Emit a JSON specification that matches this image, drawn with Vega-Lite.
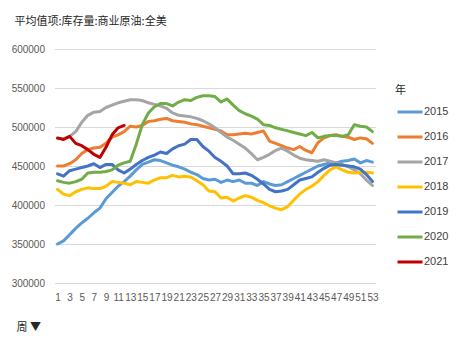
{
  "$schema": "https://vega.github.io/schema/vega-lite/v6.json",
  "width": 321,
  "height": 234,
  "autosize": {"type": "none"},
  "padding": {"left": 54.5, "top": 49, "right": 88.5, "bottom": 69},
  "background": "white",
  "config": {"view": {"stroke": null}, "font": "Liberation Sans"},
  "title": {"text": "平均值项:库存量:商业原油:全美", "anchor": "start", "frame": "group", "font": "Noto Sans CJK SC", "fontSize": 11, "fontWeight": "normal", "color": "#262626", "dx": -40, "dy": -13},
  "data": {"values": [
{"w":1,"y":"2015","v":350000},{"w":2,"y":"2015","v":354000},{"w":3,"y":"2015","v":362000},{"w":4,"y":"2015","v":370000},{"w":5,"y":"2015","v":377000},{"w":6,"y":"2015","v":383000},{"w":7,"y":"2015","v":390000},{"w":8,"y":"2015","v":396000},{"w":9,"y":"2015","v":408000},{"w":10,"y":"2015","v":416000},{"w":11,"y":"2015","v":424000},{"w":12,"y":"2015","v":430000},{"w":13,"y":"2015","v":437000},{"w":14,"y":"2015","v":445000},{"w":15,"y":"2015","v":452000},{"w":16,"y":"2015","v":455000},{"w":17,"y":"2015","v":458000},{"w":18,"y":"2015","v":457000},{"w":19,"y":"2015","v":454000},{"w":20,"y":"2015","v":451000},{"w":21,"y":"2015","v":449000},{"w":22,"y":"2015","v":446000},{"w":23,"y":"2015","v":442000},{"w":24,"y":"2015","v":439000},{"w":25,"y":"2015","v":434000},{"w":26,"y":"2015","v":432000},{"w":27,"y":"2015","v":433000},{"w":28,"y":"2015","v":429000},{"w":29,"y":"2015","v":432000},{"w":30,"y":"2015","v":430000},{"w":31,"y":"2015","v":432000},{"w":32,"y":"2015","v":428000},{"w":33,"y":"2015","v":428000},{"w":34,"y":"2015","v":425000},{"w":35,"y":"2015","v":430000},{"w":36,"y":"2015","v":427000},{"w":37,"y":"2015","v":425000},{"w":38,"y":"2015","v":426000},{"w":39,"y":"2015","v":430000},{"w":40,"y":"2015","v":434000},{"w":41,"y":"2015","v":438000},{"w":42,"y":"2015","v":442000},{"w":43,"y":"2015","v":446000},{"w":44,"y":"2015","v":450000},{"w":45,"y":"2015","v":452000},{"w":46,"y":"2015","v":454000},{"w":47,"y":"2015","v":454000},{"w":48,"y":"2015","v":456000},{"w":49,"y":"2015","v":457000},{"w":50,"y":"2015","v":459000},{"w":51,"y":"2015","v":454000},{"w":52,"y":"2015","v":457000},{"w":53,"y":"2015","v":455000},
{"w":1,"y":"2016","v":450000},{"w":2,"y":"2016","v":450000},{"w":3,"y":"2016","v":453000},{"w":4,"y":"2016","v":458000},{"w":5,"y":"2016","v":466000},{"w":6,"y":"2016","v":471000},{"w":7,"y":"2016","v":473000},{"w":8,"y":"2016","v":474000},{"w":9,"y":"2016","v":479000},{"w":10,"y":"2016","v":487000},{"w":11,"y":"2016","v":490000},{"w":12,"y":"2016","v":494000},{"w":13,"y":"2016","v":501000},{"w":14,"y":"2016","v":500000},{"w":15,"y":"2016","v":502000},{"w":16,"y":"2016","v":507000},{"w":17,"y":"2016","v":508000},{"w":18,"y":"2016","v":510000},{"w":19,"y":"2016","v":511000},{"w":20,"y":"2016","v":508000},{"w":21,"y":"2016","v":507000},{"w":22,"y":"2016","v":506000},{"w":23,"y":"2016","v":504000},{"w":24,"y":"2016","v":503000},{"w":25,"y":"2016","v":501000},{"w":26,"y":"2016","v":499000},{"w":27,"y":"2016","v":497000},{"w":28,"y":"2016","v":495000},{"w":29,"y":"2016","v":490000},{"w":30,"y":"2016","v":490000},{"w":31,"y":"2016","v":491000},{"w":32,"y":"2016","v":492000},{"w":33,"y":"2016","v":491000},{"w":34,"y":"2016","v":493000},{"w":35,"y":"2016","v":495000},{"w":36,"y":"2016","v":482000},{"w":37,"y":"2016","v":479000},{"w":38,"y":"2016","v":476000},{"w":39,"y":"2016","v":473000},{"w":40,"y":"2016","v":471000},{"w":41,"y":"2016","v":475000},{"w":42,"y":"2016","v":470000},{"w":43,"y":"2016","v":467000},{"w":44,"y":"2016","v":480000},{"w":45,"y":"2016","v":486000},{"w":46,"y":"2016","v":489000},{"w":47,"y":"2016","v":490000},{"w":48,"y":"2016","v":488000},{"w":49,"y":"2016","v":487000},{"w":50,"y":"2016","v":484000},{"w":51,"y":"2016","v":486000},{"w":52,"y":"2016","v":485000},{"w":53,"y":"2016","v":479000},
{"w":1,"y":"2017","v":485000},{"w":2,"y":"2017","v":485000},{"w":3,"y":"2017","v":488000},{"w":4,"y":"2017","v":494000},{"w":5,"y":"2017","v":506000},{"w":6,"y":"2017","v":515000},{"w":7,"y":"2017","v":519000},{"w":8,"y":"2017","v":520000},{"w":9,"y":"2017","v":525000},{"w":10,"y":"2017","v":528000},{"w":11,"y":"2017","v":531000},{"w":12,"y":"2017","v":533000},{"w":13,"y":"2017","v":535000},{"w":14,"y":"2017","v":535000},{"w":15,"y":"2017","v":534000},{"w":16,"y":"2017","v":531000},{"w":17,"y":"2017","v":529000},{"w":18,"y":"2017","v":527000},{"w":19,"y":"2017","v":524000},{"w":20,"y":"2017","v":518000},{"w":21,"y":"2017","v":515000},{"w":22,"y":"2017","v":514000},{"w":23,"y":"2017","v":513000},{"w":24,"y":"2017","v":511000},{"w":25,"y":"2017","v":508000},{"w":26,"y":"2017","v":504000},{"w":27,"y":"2017","v":499000},{"w":28,"y":"2017","v":493000},{"w":29,"y":"2017","v":487000},{"w":30,"y":"2017","v":483000},{"w":31,"y":"2017","v":478000},{"w":32,"y":"2017","v":473000},{"w":33,"y":"2017","v":466000},{"w":34,"y":"2017","v":458000},{"w":35,"y":"2017","v":461000},{"w":36,"y":"2017","v":465000},{"w":37,"y":"2017","v":470000},{"w":38,"y":"2017","v":473000},{"w":39,"y":"2017","v":469000},{"w":40,"y":"2017","v":464000},{"w":41,"y":"2017","v":460000},{"w":42,"y":"2017","v":458000},{"w":43,"y":"2017","v":457000},{"w":44,"y":"2017","v":456000},{"w":45,"y":"2017","v":458000},{"w":46,"y":"2017","v":456000},{"w":47,"y":"2017","v":454000},{"w":48,"y":"2017","v":452000},{"w":49,"y":"2017","v":449000},{"w":50,"y":"2017","v":445000},{"w":51,"y":"2017","v":440000},{"w":52,"y":"2017","v":432000},{"w":53,"y":"2017","v":425000},
{"w":1,"y":"2018","v":420000},{"w":2,"y":"2018","v":414000},{"w":3,"y":"2018","v":412000},{"w":4,"y":"2018","v":417000},{"w":5,"y":"2018","v":420000},{"w":6,"y":"2018","v":422000},{"w":7,"y":"2018","v":421000},{"w":8,"y":"2018","v":421000},{"w":9,"y":"2018","v":424000},{"w":10,"y":"2018","v":430000},{"w":11,"y":"2018","v":429000},{"w":12,"y":"2018","v":428000},{"w":13,"y":"2018","v":426000},{"w":14,"y":"2018","v":430000},{"w":15,"y":"2018","v":429000},{"w":16,"y":"2018","v":428000},{"w":17,"y":"2018","v":432000},{"w":18,"y":"2018","v":435000},{"w":19,"y":"2018","v":435000},{"w":20,"y":"2018","v":438000},{"w":21,"y":"2018","v":436000},{"w":22,"y":"2018","v":437000},{"w":23,"y":"2018","v":436000},{"w":24,"y":"2018","v":431000},{"w":25,"y":"2018","v":426000},{"w":26,"y":"2018","v":418000},{"w":27,"y":"2018","v":417000},{"w":28,"y":"2018","v":409000},{"w":29,"y":"2018","v":410000},{"w":30,"y":"2018","v":405000},{"w":31,"y":"2018","v":409000},{"w":32,"y":"2018","v":412000},{"w":33,"y":"2018","v":410000},{"w":34,"y":"2018","v":406000},{"w":35,"y":"2018","v":403000},{"w":36,"y":"2018","v":399000},{"w":37,"y":"2018","v":396000},{"w":38,"y":"2018","v":394000},{"w":39,"y":"2018","v":398000},{"w":40,"y":"2018","v":406000},{"w":41,"y":"2018","v":414000},{"w":42,"y":"2018","v":420000},{"w":43,"y":"2018","v":424000},{"w":44,"y":"2018","v":430000},{"w":45,"y":"2018","v":438000},{"w":46,"y":"2018","v":445000},{"w":47,"y":"2018","v":449000},{"w":48,"y":"2018","v":445000},{"w":49,"y":"2018","v":442000},{"w":50,"y":"2018","v":441000},{"w":51,"y":"2018","v":442000},{"w":52,"y":"2018","v":442000},{"w":53,"y":"2018","v":441000},
{"w":1,"y":"2019","v":440000},{"w":2,"y":"2019","v":437000},{"w":3,"y":"2019","v":444000},{"w":4,"y":"2019","v":446000},{"w":5,"y":"2019","v":448000},{"w":6,"y":"2019","v":450000},{"w":7,"y":"2019","v":453000},{"w":8,"y":"2019","v":448000},{"w":9,"y":"2019","v":452000},{"w":10,"y":"2019","v":452000},{"w":11,"y":"2019","v":445000},{"w":12,"y":"2019","v":441000},{"w":13,"y":"2019","v":446000},{"w":14,"y":"2019","v":452000},{"w":15,"y":"2019","v":457000},{"w":16,"y":"2019","v":461000},{"w":17,"y":"2019","v":464000},{"w":18,"y":"2019","v":468000},{"w":19,"y":"2019","v":466000},{"w":20,"y":"2019","v":472000},{"w":21,"y":"2019","v":476000},{"w":22,"y":"2019","v":478000},{"w":23,"y":"2019","v":484000},{"w":24,"y":"2019","v":484000},{"w":25,"y":"2019","v":475000},{"w":26,"y":"2019","v":469000},{"w":27,"y":"2019","v":461000},{"w":28,"y":"2019","v":456000},{"w":29,"y":"2019","v":450000},{"w":30,"y":"2019","v":440000},{"w":31,"y":"2019","v":440000},{"w":32,"y":"2019","v":441000},{"w":33,"y":"2019","v":438000},{"w":34,"y":"2019","v":433000},{"w":35,"y":"2019","v":427000},{"w":36,"y":"2019","v":420000},{"w":37,"y":"2019","v":417000},{"w":38,"y":"2019","v":418000},{"w":39,"y":"2019","v":420000},{"w":40,"y":"2019","v":426000},{"w":41,"y":"2019","v":432000},{"w":42,"y":"2019","v":434000},{"w":43,"y":"2019","v":436000},{"w":44,"y":"2019","v":442000},{"w":45,"y":"2019","v":447000},{"w":46,"y":"2019","v":451000},{"w":47,"y":"2019","v":452000},{"w":48,"y":"2019","v":451000},{"w":49,"y":"2019","v":450000},{"w":50,"y":"2019","v":449000},{"w":51,"y":"2019","v":446000},{"w":52,"y":"2019","v":439000},{"w":53,"y":"2019","v":430000},
{"w":1,"y":"2020","v":431000},{"w":2,"y":"2020","v":429000},{"w":3,"y":"2020","v":428000},{"w":4,"y":"2020","v":430000},{"w":5,"y":"2020","v":433000},{"w":6,"y":"2020","v":441000},{"w":7,"y":"2020","v":442000},{"w":8,"y":"2020","v":442000},{"w":9,"y":"2020","v":443000},{"w":10,"y":"2020","v":445000},{"w":11,"y":"2020","v":451000},{"w":12,"y":"2020","v":454000},{"w":13,"y":"2020","v":456000},{"w":14,"y":"2020","v":478000},{"w":15,"y":"2020","v":503000},{"w":16,"y":"2020","v":518000},{"w":17,"y":"2020","v":526000},{"w":18,"y":"2020","v":530000},{"w":19,"y":"2020","v":530000},{"w":20,"y":"2020","v":527000},{"w":21,"y":"2020","v":532000},{"w":22,"y":"2020","v":535000},{"w":23,"y":"2020","v":534000},{"w":24,"y":"2020","v":538000},{"w":25,"y":"2020","v":540000},{"w":26,"y":"2020","v":540000},{"w":27,"y":"2020","v":539000},{"w":28,"y":"2020","v":532000},{"w":29,"y":"2020","v":536000},{"w":30,"y":"2020","v":528000},{"w":31,"y":"2020","v":521000},{"w":32,"y":"2020","v":517000},{"w":33,"y":"2020","v":514000},{"w":34,"y":"2020","v":510000},{"w":35,"y":"2020","v":503000},{"w":36,"y":"2020","v":502000},{"w":37,"y":"2020","v":499000},{"w":38,"y":"2020","v":497000},{"w":39,"y":"2020","v":495000},{"w":40,"y":"2020","v":493000},{"w":41,"y":"2020","v":491000},{"w":42,"y":"2020","v":489000},{"w":43,"y":"2020","v":493000},{"w":44,"y":"2020","v":486000},{"w":45,"y":"2020","v":488000},{"w":46,"y":"2020","v":489000},{"w":47,"y":"2020","v":489000},{"w":48,"y":"2020","v":488000},{"w":49,"y":"2020","v":490000},{"w":50,"y":"2020","v":503000},{"w":51,"y":"2020","v":501000},{"w":52,"y":"2020","v":500000},{"w":53,"y":"2020","v":494000},
{"w":1,"y":"2021","v":486000},{"w":2,"y":"2021","v":484000},{"w":3,"y":"2021","v":488000},{"w":4,"y":"2021","v":479000},{"w":5,"y":"2021","v":476000},{"w":6,"y":"2021","v":471000},{"w":7,"y":"2021","v":465000},{"w":8,"y":"2021","v":461000},{"w":9,"y":"2021","v":474000},{"w":10,"y":"2021","v":490000},{"w":11,"y":"2021","v":499000},{"w":12,"y":"2021","v":502000}
  ]},
  "mark": {"type": "line", "strokeWidth": 3, "strokeCap": "round", "strokeJoin": "round"},
  "encoding": {
    "x": {
      "field": "w", "type": "ordinal",
      "scale": {"type": "point", "padding": 0.5},
      "axis": {
        "values": [1,3,5,7,9,11,13,15,17,19,21,23,25,27,29,31,33,35,37,39,41,43,45,47,49,51,53],
        "labelAngle": 0, "labelOverlap": false, "labelFontSize": 10, "labelColor": "#595959",
        "labelPadding": 9, "ticks": false, "domain": false, "grid": false,
        "title": "周 ▼", "titleFont": "Noto Sans CJK SC", "titleFontSize": 11, "titleFontWeight": "normal", "titleColor": "#262626",
        "titleX": -38.5, "titleY": 44, "titleAlign": "left", "titleBaseline": "middle", "titleAnchor": null
      }
    },
    "y": {
      "field": "v", "type": "quantitative",
      "scale": {"domain": [300000, 600000], "nice": false, "zero": false},
      "axis": {
        "values": [300000,350000,400000,450000,500000,550000,600000],
        "format": "d", "labelFontSize": 10, "labelColor": "#595959", "labelPadding": 10,
        "ticks": false, "domain": false, "grid": true, "gridColor": "#D9D9D9", "gridWidth": 1,
        "title": null
      }
    },
    "color": {
      "field": "y", "type": "nominal",
      "scale": {"domain": ["2015","2016","2017","2018","2019","2020","2021"], "range": ["#5B9BD5","#ED7D31","#A5A5A5","#FFC000","#4472C4","#70AD47","#C00000"]},
      "legend": {
        "title": "年", "orient": "none", "legendX": 340.5, "legendY": 36,
        "titleFont": "Noto Sans CJK SC", "titleFontSize": 11, "titleFontWeight": "normal", "titleColor": "#262626",
        "titleBaseline": "top", "titlePadding": 2,
        "symbolType": "stroke", "symbolSize": 625, "symbolStrokeWidth": 3, "symbolOffset": 1,
        "labelFontSize": 11, "labelColor": "#404040", "labelOffset": 0,
        "rowPadding": 5, "padding": 0
      }
    }
  }
}
